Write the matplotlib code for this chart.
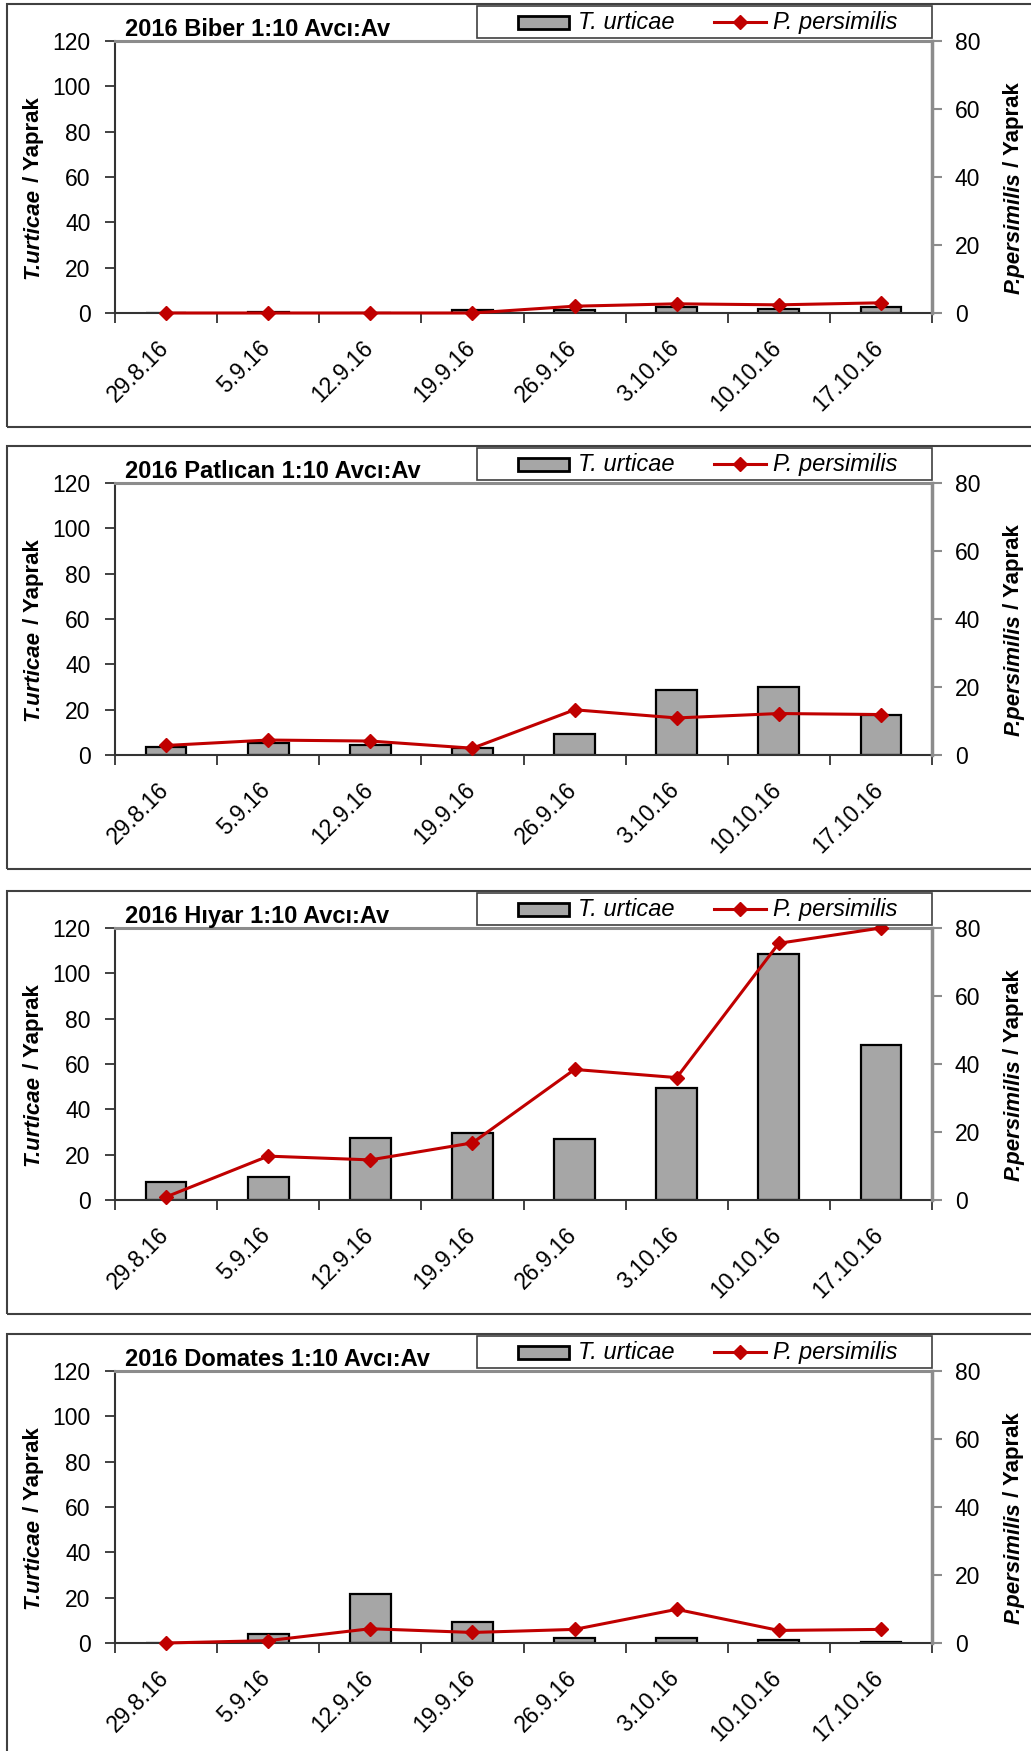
import matplotlib
matplotlib.use('Agg')
import matplotlib.pyplot as plt
from matplotlib.patches import Rectangle
from matplotlib.lines import Line2D
from matplotlib.transforms import ScaledTranslation
import numpy as np

plt.rcParams['font.family'] = ['Liberation Sans', 'DejaVu Sans']

# ---------------- data ----------------
dates = ['29.8.16', '5.9.16', '12.9.16', '19.9.16', '26.9.16', '3.10.16', '10.10.16', '17.10.16']
titles = ['2016 Biber 1:10 Avcı:Av', '2016 Patlıcan 1:10 Avcı:Av',
          '2016 Hıyar 1:10 Avcı:Av', '2016 Domates 1:10 Avcı:Av']

biber_urticae = [0, 0.6, 0, 1.5, 1.2, 2.8, 1.9, 2.5]
biber_persimilis = [0, 0, 0, 0, 2.0, 2.7, 2.4, 3.0]
patlican_urticae = [3.5, 5.4, 4.5, 2.9, 9.4, 28.6, 29.9, 17.7]
patlican_persimilis = [2.8, 4.4, 4.1, 2.0, 13.3, 10.9, 12.2, 11.9]
hiyar_urticae = [7.9, 10.3, 27.2, 29.4, 26.7, 49.2, 108.5, 68.3]
hiyar_persimilis = [0.9, 12.9, 11.8, 16.8, 38.4, 36.0, 75.5, 80.0]
domates_urticae = [0, 3.8, 21.8, 9.4, 2.3, 2.0, 1.4, 0.5]
domates_persimilis = [0, 0.7, 4.2, 3.1, 4.0, 9.9, 3.7, 4.0]

urticae_series = [biber_urticae, patlican_urticae, hiyar_urticae, domates_urticae]
persimilis_series = [biber_persimilis, patlican_persimilis, hiyar_persimilis, domates_persimilis]

left_ticks = [0, 20, 40, 60, 80, 100, 120]
right_ticks = [0, 20, 40, 60, 80]

# ---------------- layout ----------------
W, H = 1031, 1751
fig = plt.figure(figsize=(W / 100, H / 100), dpi=100)


def fx(px):
    return px / W


def fy(py):
    return 1 - py / H


AX_L, AX_R, AX_H = 115, 932, 272
panel_tops = [41, 483, 928, 1371]

BAR_COLOR = '#A6A6A6'
LINE_COLOR = '#C00000'
GRAY = '#8C8C8C'
DARK = '#333333'
TICK_FS = 16.5
LAB_FS = 16

labels_to_fix = []
shift = ScaledTranslation(7 / 100, 0, fig.dpi_scale_trans)

for i in range(4):
    top = panel_tops[i]
    # chart-area frame
    fig.add_artist(Rectangle((fx(7), fy(top + 386)), fx(1045) - fx(7), (386 + 37) / H,
                             transform=fig.transFigure, fill=False,
                             edgecolor='#404040', linewidth=1.5, clip_on=False))

    ax = fig.add_axes([fx(AX_L), fy(top + AX_H), fx(AX_R) - fx(AX_L), AX_H / H])
    x = np.arange(len(dates))
    ax.bar(x, urticae_series[i], width=0.4, color=BAR_COLOR, edgecolor='black',
           linewidth=1.6, zorder=2)
    ax.set_xlim(-0.5, len(dates) - 0.5)
    ax.set_ylim(0, 120)
    ax.set_yticks(left_ticks)
    ax.set_yticklabels([str(t) for t in left_ticks])
    ax.tick_params(axis='y', which='major', length=7, width=1.3, color=DARK,
                   labelsize=TICK_FS, pad=10.5, direction='out')
    ax.set_xticks(np.arange(-0.5, len(dates), 1.0))
    ax.set_xticks(x, labels=dates, minor=True)
    ax.tick_params(axis='x', which='major', length=7, width=1.3, color=DARK,
                   labelbottom=False, direction='out')
    ax.tick_params(axis='x', which='minor', length=0, pad=17, labelsize=TICK_FS)
    for lab in ax.get_xticklabels(minor=True):
        lab.set_rotation(45)
        lab.set_ha('right')
        lab.set_transform(lab.get_transform() + shift)
    for s in ['left', 'bottom']:
        ax.spines[s].set_color(DARK)
        ax.spines[s].set_linewidth(1.5)
    ax.spines['top'].set_color(GRAY)
    ax.spines['top'].set_linewidth(2.2)
    ax.spines['right'].set_visible(False)

    ax2 = ax.twinx()
    ax2.plot(x, persimilis_series[i], color=LINE_COLOR, linewidth=2.2, marker='D',
             markersize=6.8, markerfacecolor=LINE_COLOR, markeredgecolor=LINE_COLOR,
             zorder=3, clip_on=False)
    ax2.set_ylim(0, 80)
    ax2.set_yticks(right_ticks)
    ax2.set_yticklabels([str(t) for t in right_ticks])
    ax2.tick_params(axis='y', length=7, width=1.5, color=GRAY, labelsize=TICK_FS,
                    pad=9.5, direction='out')
    for s in ['left', 'bottom', 'top']:
        ax2.spines[s].set_visible(False)
    ax2.spines['right'].set_color(GRAY)
    ax2.spines['right'].set_linewidth(2.5)

    # title
    fig.text(fx(125), fy(top - 5), titles[i], fontsize=17, fontweight='bold',
             ha='left', va='baseline')

    # legend (drawn in figure coordinates)
    fig.add_artist(Rectangle((fx(477), fy(top - 3)), fx(932) - fx(477), 32 / H,
                             transform=fig.transFigure, facecolor='white',
                             edgecolor='#404040', linewidth=1.2, zorder=5))
    fig.add_artist(Rectangle((fx(518), fy(top - 12)), fx(569) - fx(518), 13 / H,
                             transform=fig.transFigure, facecolor=BAR_COLOR,
                             edgecolor='black', linewidth=2.0, zorder=6))
    fig.text(fx(578), fy(top - 12), 'T. urticae', fontsize=17, fontstyle='italic',
             ha='left', va='baseline', zorder=6)
    fig.add_artist(Line2D([fx(714), fx(766)], [fy(top - 19), fy(top - 19)],
                          transform=fig.transFigure, color=LINE_COLOR, linewidth=2.2,
                          zorder=6))
    fig.add_artist(Line2D([fx(740)], [fy(top - 19)], transform=fig.transFigure,
                          color=LINE_COLOR, marker='D', markersize=6.8, zorder=7))
    fig.text(fx(773), fy(top - 12), 'P. persimilis', fontsize=17, fontstyle='italic',
             ha='left', va='baseline', zorder=6)

    # axis labels (two styles in one label)
    for xc, p1 in [(33, 'T.urticae'), (1014, 'P.persimilis')]:
        t1 = fig.text(fx(xc), 0.5, p1, rotation=90, fontsize=LAB_FS, fontweight='bold',
                      fontstyle='italic', ha='center', va='bottom')
        t2 = fig.text(fx(xc), 0.5, ' / Yaprak', rotation=90, fontsize=LAB_FS,
                      fontweight='bold', ha='center', va='bottom')
        labels_to_fix.append((t1, t2, top + 147))

fig.canvas.draw()
r = fig.canvas.get_renderer()
for t1, t2, yc in labels_to_fix:
    h1 = t1.get_window_extent(r).height
    h2 = t2.get_window_extent(r).height
    total = h1 + h2
    bottom = (H - yc) - total / 2
    t1.set_y(bottom / H)
    t2.set_y((bottom + h1) / H)

fig.savefig('out.png', dpi=100, facecolor='white')
